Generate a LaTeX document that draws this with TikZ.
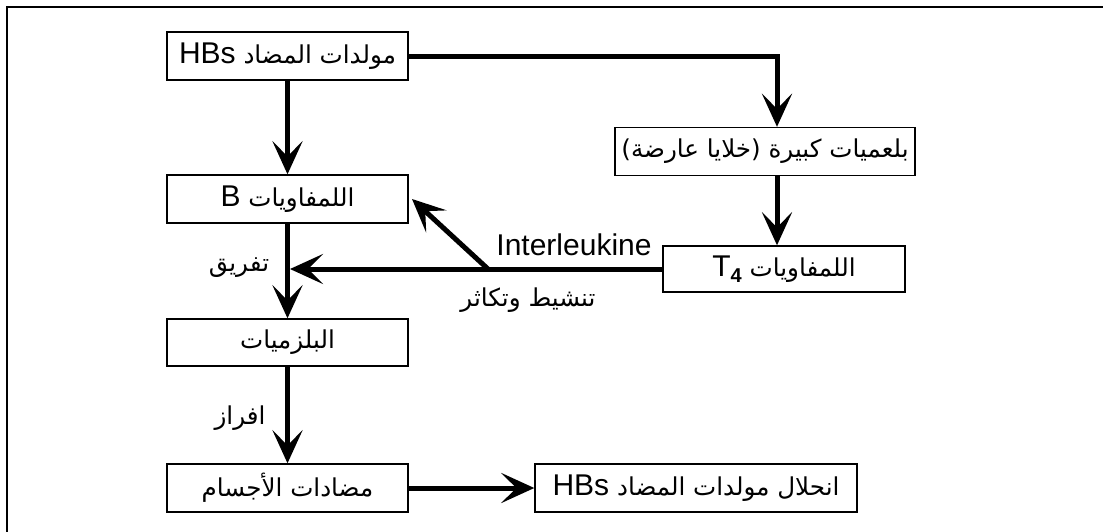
\documentclass[tikz,border=0pt]{standalone}
\usepackage{fontspec}
\setmainfont{Liberation Sans}
\newfontfamily\arabicfont[Script=Arabic,Scale=0.82]{DejaVu Sans}
\TeXXeTstate=1
\usetikzlibrary{arrows.meta,calc}
\begin{document}
\begin{tikzpicture}[x=1pt,y=-1pt,
  box/.style={draw,line width=1.4pt,minimum width=241pt,minimum height=48pt,inner sep=0pt,font=\fontsize{30}{36}\selectfont},
  arr/.style={line width=5pt,-{Stealth[length=33pt,width=30pt,inset=15pt]}},
  lbl/.style={font=\fontsize{30}{36}\selectfont,inner sep=0pt}]
\clip (0,0) rectangle (1103,531);
\draw[line width=2pt] (7,7) rectangle (1130,560);
% nodes
\node[box] (hbs) at (287.5,56) {\arabicfont\beginR مولدات المضاد \beginL{\rmfamily HBs}\endL\endR};
\node[box,minimum width=300pt] (mac) at (765,151.5) {\arabicfont\beginR بلعميات كبيرة \mbox{(}خلايا عارضة\mbox{)}\endR};
\node[box] (lb) at (287.5,199) {\arabicfont\beginR اللمفاويات \beginL{\rmfamily B}\endL\endR};
\node[box,minimum width=242pt,minimum height=46pt] (t4) at (784,269) {\arabicfont\beginR اللمفاويات \beginL{\rmfamily T\raisebox{-6pt}{\fontsize{20}{24}\selectfont\bfseries 4}}\endL\endR};
\node[box,minimum height=47pt] (pl) at (287.5,342.5) {\arabicfont\beginR البلزميات\endR};
\node[box] (ab) at (287.5,488) {\arabicfont\beginR مضادات الأجسام\endR};
\node[box,minimum width=322pt] (de) at (696,488) {\arabicfont\beginR انحلال مولدات المضاد \beginL{\rmfamily HBs}\endL\endR};
% labels
\node[lbl] (l1) at (239,268) {\arabicfont\beginR تفريق\endR};
\node[lbl] (l2) at (574,245) {Interleukine};
\node[lbl] (l3) at (528,300) {\arabicfont\beginR تنشيط وتكاثر\endR};
\node[lbl] (l4) at (240,418) {\arabicfont\beginR افراز\endR};
% helper coordinates
\coordinate (cx) at (777,0);
\coordinate (jx) at (488,269);
\coordinate (bt) at (412,199);
\coordinate (vt) at (290,269);
% connectors
\draw[arr] (hbs.east) -| (cx |- mac.north);
\draw[arr] (hbs.south) -- (lb.north);
\draw[arr] (cx |- mac.south) -- (cx |- t4.north);
\draw[arr] (t4.west) -- (vt);
\draw[arr] (jx) -- (bt);
\draw[arr] (lb.south) -- (pl.north);
\draw[arr] (pl.south) -- (ab.north);
\draw[arr] (ab.east) -- (de.west);
\end{tikzpicture}
\end{document}
